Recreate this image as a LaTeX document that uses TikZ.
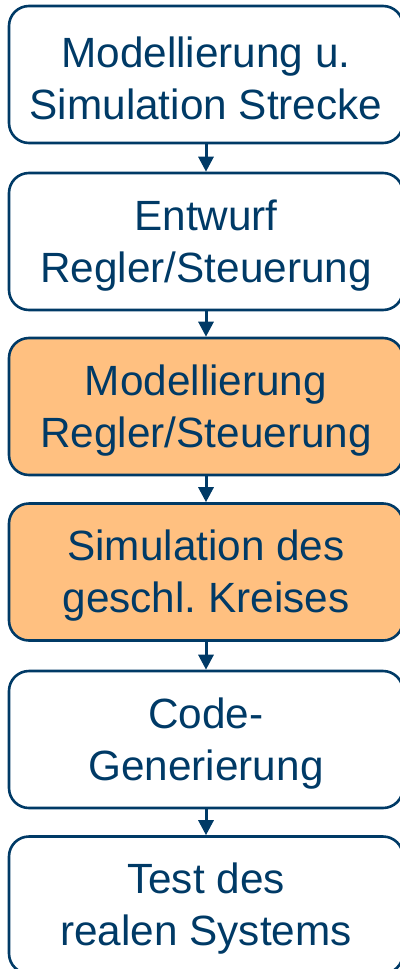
\documentclass[tikz,border=0pt]{standalone}
\usepackage{fontspec}
\setmainfont{Liberation Sans}
\usetikzlibrary{arrows.meta}
\definecolor{frameblue}{RGB}{0,58,102}
\definecolor{stepfill}{RGB}{255,192,128}
\frenchspacing
\begin{document}
\begin{tikzpicture}[x=1pt,y=-1pt,
  stage/.style={draw=frameblue, line width=2.6pt, rounded corners=20pt,
    minimum width=394pt, minimum height=137pt, inner sep=0pt},
  hot/.style={stage, fill=stepfill},
  caption/.style={inner sep=0pt, align=center, text=frameblue,
    font=\fontsize{42.3}{52}\selectfont},
  flow/.style={draw=frameblue, line width=3pt,
    -{Triangle[length=15pt,width=15pt]}}]
\useasboundingbox (0,0) rectangle (399,969);
% process stages
\node[stage] (s1) at (206,74.5) {};
\node[stage] (s2) at (206,241.5) {};
\node[hot]   (s3) at (206,406.5) {};
\node[hot]   (s4) at (206,572) {};
\node[stage] (s5) at (206,739.5) {};
\node[stage] (s6) at (206,905) {};
% stage captions, set slightly below the box centre
\node[caption] (t1) at ([yshift=-4pt]s1.center) {Modellierung u.\\Simulation Strecke};
\node[caption] (t2) at ([yshift=-4pt]s2.center) {Entwurf\\Regler/Steuerung};
\node[caption] (t3) at ([yshift=-4pt]s3.center) {Modellierung\\Regler/Steuerung};
\node[caption] (t4) at ([yshift=-4pt]s4.center) {Simulation des\\geschl. Kreises};
\node[caption] (t5) at ([yshift=-4pt]s5.center) {Code-\\Generierung};
\node[caption] (t6) at ([yshift=-4pt]s6.center) {Test des\\realen Systems};
% connectors
\foreach \a/\b in {s1/s2,s2/s3,s3/s4,s4/s5,s5/s6}
  \draw[flow] (\a.south) -- (\b.north);
\end{tikzpicture}
\end{document}
